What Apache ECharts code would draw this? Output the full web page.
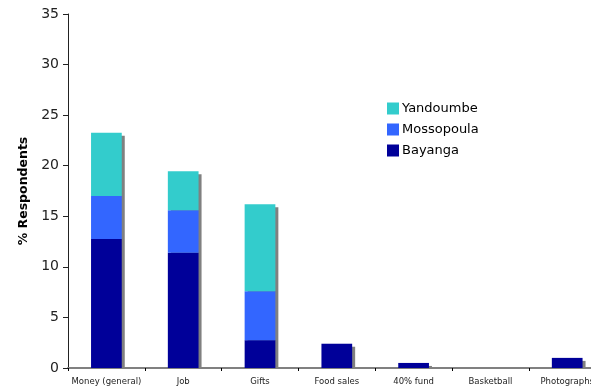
<!DOCTYPE html>
<html>
<head>
<meta charset="utf-8">
<script src="https://cdn.jsdelivr.net/npm/echarts@6/dist/echarts.min.js"></script>
<style>
  html, body { margin: 0; padding: 0; background: #fff; }
  #chart { width: 591px; height: 390px; }
</style>
</head>
<body>
<div id="chart"></div>
<script>
// Income sources by village (% of respondents)
const categories = ['Money (general)', 'Job', 'Gifts', 'Food sales', '40% fund', 'Basketball', 'Photographs'];
const bayanga    = [12.75, 11.4, 2.75, 2.4, 0.5, 0, 1.0];
const mossopoula = [4.25, 4.2, 4.85, 0, 0, 0, 0];
const yandoumbe  = [6.25, 3.85, 8.6, 0, 0, 0, 0];
const yTicks = { min: 0, max: 35, interval: 5 };

const totals = categories.map((_, i) => bayanga[i] + mossopoula[i] + yandoumbe[i]);

const FONT = 'DejaVu Sans, Verdana, sans-serif';
const chart = echarts.init(document.getElementById('chart'), null, { renderer: 'canvas' });

// drop shadow behind each stacked column, offset 3px right and down
function shadowItem(params, api) {
  const total = api.value(1);
  if (!(total > 0)) return null;
  const top = api.coord([api.value(0), total]);
  const base = api.coord([api.value(0), 0]);
  const w = api.size([1, 0])[0] * 0.4;
  const h = base[1] - top[1] - 3;
  if (h <= 0) return null;
  return {
    type: 'rect',
    shape: { x: top[0] - w / 2 + 3, y: top[1] + 3, width: w, height: h },
    style: { fill: '#808080' }
  };
}

chart.setOption({
  animation: false,
  backgroundColor: '#ffffff',
  textStyle: { fontFamily: FONT },
  grid: { left: 68, top: 14, bottom: 22, width: 537.6, containLabel: false, outerBoundsMode: 'none' },
  legend: {
    orient: 'vertical',
    left: 387,
    top: 102,
    padding: 0,
    itemWidth: 12,
    itemHeight: 12,
    itemGap: 8,
    icon: 'rect',
    data: ['Yandoumbe', 'Mossopoula', 'Bayanga'],
    textStyle: { fontFamily: FONT, fontSize: 13, color: '#000', padding: [0, 0, 0, -2] }
  },
  xAxis: {
    type: 'category',
    data: categories,
    axisLine: { lineStyle: { color: '#808080', width: 2 } },
    axisTick: { show: true, length: 3, lineStyle: { color: '#000' } },
    axisLabel: { interval: 0, fontFamily: FONT, fontSize: 8.5, color: '#222', margin: 9 }
  },
  yAxis: {
    type: 'value',
    min: yTicks.min,
    max: yTicks.max,
    interval: yTicks.interval,
    name: '% Respondents',
    nameLocation: 'middle',
    nameGap: 32,
    nameTextStyle: { fontFamily: FONT, fontSize: 12.5, fontWeight: 'bold', color: '#000' },
    axisLine: { show: true, lineStyle: { color: '#222', width: 1 } },
    axisTick: { show: true, length: 5, lineStyle: { color: '#222' } },
    axisLabel: { fontFamily: FONT, fontSize: 14, color: '#222', margin: 9 },
    splitLine: { show: false }
  },
  series: [
    {
      name: 'shadow',
      type: 'custom',
      renderItem: shadowItem,
      data: totals.map((t, i) => [i, t]),
      encode: { x: 0, y: 1 },
      z: 1,
      silent: true
    },
    { name: 'Bayanga', type: 'bar', stack: 'v', barWidth: '40%', data: bayanga, itemStyle: { color: '#000099' }, z: 2 },
    { name: 'Mossopoula', type: 'bar', stack: 'v', barWidth: '40%', data: mossopoula, itemStyle: { color: '#3366FF' }, z: 2 },
    { name: 'Yandoumbe', type: 'bar', stack: 'v', barWidth: '40%', data: yandoumbe, itemStyle: { color: '#33CCCC' }, z: 2 }
  ]
});
</script>
</body>
</html>
